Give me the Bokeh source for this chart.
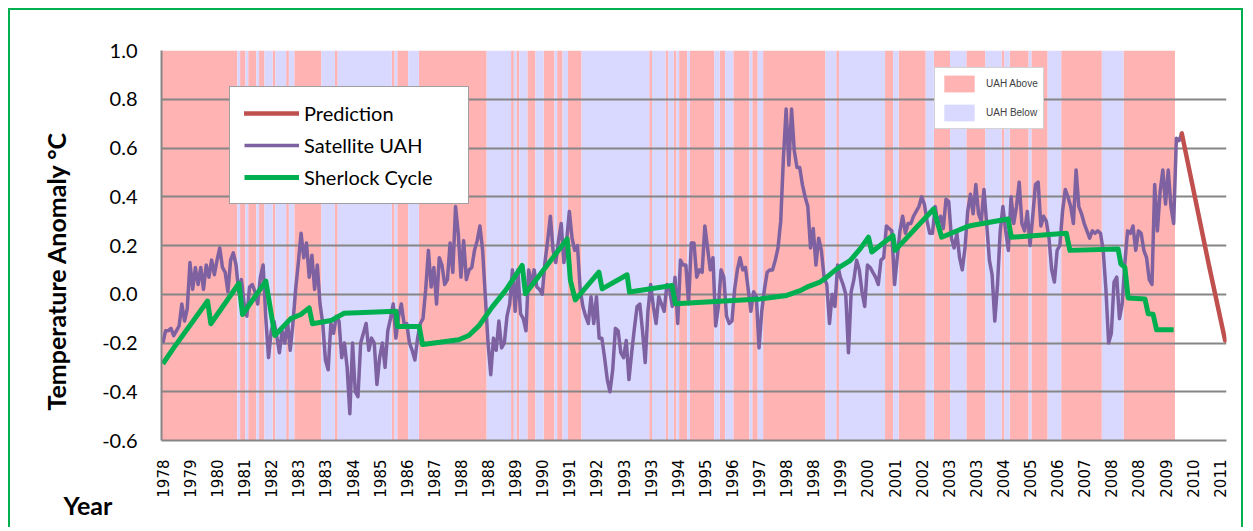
import numpy as np
from bokeh.plotting import figure
from bokeh.models import FixedTicker, NumeralTickFormatter, Legend, LegendItem, Title
from bokeh.embed import file_html
from bokeh.resources import INLINE

# ---------------- data ----------------
tick_labels = ["1978", "1979", "1980", "1981", "1982", "1983", "1983", "1984", "1985", "1986",
               "1987", "1988", "1988", "1989", "1990", "1991", "1992", "1993", "1993", "1994",
               "1995", "1996", "1997", "1998", "1998", "1999", "2000", "2001", "2002", "2003",
               "2003", "2004", "2005", "2006", "2007", "2008", "2008", "2009", "2010", "2011"]
months_per_label = 10
n_categories = 393

# Satellite UAH monthly anomaly (one value per category, from Dec 1978)
uah = [
    -0.20, -0.15, -0.15, -0.14, -0.17, -0.15, -0.13, -0.04, -0.11, -0.06,
    0.13, 0.02, 0.11, 0.04, 0.11, 0.02, 0.12, 0.07, 0.14, 0.08,
    0.14, 0.19, 0.11, 0.09, 0.01, 0.14, 0.17, 0.12, 0.01, 0.06,
    -0.04, -0.09, 0.03, 0.04, 0.01, -0.04, 0.07, 0.12, -0.10, -0.26,
    -0.15, -0.11, -0.17, -0.24, -0.15, -0.20, -0.11, -0.23, -0.12, 0.02,
    0.13, 0.25, 0.15, 0.21, 0.07, 0.16, 0.02, 0.12, -0.04, -0.12,
    -0.27, -0.31, -0.12, -0.16, -0.09, -0.11, -0.26, -0.20, -0.30, -0.49,
    -0.20, -0.40, -0.42, -0.20, -0.16, -0.12, -0.23, -0.18, -0.20, -0.37,
    -0.26, -0.20, -0.30, -0.15, -0.10, -0.04, -0.18, -0.09, -0.04, -0.12,
    -0.12, -0.20, -0.23, -0.27, -0.18, -0.12, -0.10, 0.02, 0.18, 0.03,
    0.11, -0.04, 0.15, 0.12, 0.04, 0.06, 0.21, 0.09, 0.36, 0.25,
    0.07, 0.22, 0.06, 0.10, 0.11, 0.18, 0.22, 0.28, 0.18, -0.01,
    -0.20, -0.33, -0.18, -0.23, -0.11, -0.22, -0.20, -0.09, -0.04, 0.10,
    -0.07, 0.10, -0.08, -0.10, -0.15, 0.10, 0.04, 0.10, 0.03, 0.02,
    0.00, 0.13, 0.22, 0.32, 0.18, 0.13, 0.22, 0.29, 0.13, 0.22,
    0.34, 0.23, 0.18, 0.20, 0.02, -0.05, -0.09, -0.12, -0.01, -0.12,
    -0.01, -0.18, -0.18, -0.26, -0.35, -0.40, -0.31, -0.14, -0.15, -0.24,
    -0.26, -0.19, -0.35, -0.24, -0.14, -0.05, -0.04, -0.15, -0.28, -0.07,
    0.04, -0.05, -0.12, -0.01, -0.04, -0.07, 0.04, 0.02, -0.05, 0.07,
    -0.12, 0.14, 0.12, 0.12, -0.04, 0.21, 0.21, 0.07, 0.10, 0.09,
    0.28, 0.19, 0.10, 0.15, -0.13, -0.05, 0.10, 0.07, -0.09, -0.12,
    -0.11, 0.02, 0.10, 0.15, 0.10, 0.11, 0.02, -0.07, 0.01, -0.01,
    -0.22, -0.07, 0.02, 0.09, 0.10, 0.10, 0.14, 0.19, 0.30, 0.56,
    0.76, 0.53, 0.76, 0.59, 0.52, 0.52, 0.45, 0.40, 0.36, 0.19,
    0.27, 0.12, 0.23, 0.18, 0.07, 0.04, -0.12, 0.00, -0.05, 0.12,
    0.07, 0.04, 0.00, -0.24, 0.01, 0.06, 0.14, 0.10, 0.01, -0.05,
    0.12, 0.11, 0.09, 0.07, 0.04, 0.14, 0.15, 0.28, 0.27, 0.26,
    0.04, 0.15, 0.26, 0.32, 0.25, 0.29, 0.29, 0.32, 0.34, 0.36,
    0.40, 0.37, 0.30, 0.25, 0.25, 0.36, 0.29, 0.32, 0.27, 0.39,
    0.38, 0.23, 0.19, 0.25, 0.15, 0.10, 0.19, 0.34, 0.41, 0.33,
    0.45, 0.33, 0.30, 0.43, 0.29, 0.14, 0.08, -0.11, 0.04, 0.26,
    0.36, 0.26, 0.18, 0.40, 0.29, 0.36, 0.46, 0.29, 0.26, 0.34,
    0.20, 0.32, 0.45, 0.46, 0.28, 0.32, 0.30, 0.23, 0.10, 0.05,
    0.18, 0.20, 0.34, 0.43, 0.40, 0.36, 0.29, 0.51, 0.36, 0.33,
    0.29, 0.26, 0.23, 0.26, 0.25, 0.26, 0.25, 0.18, 0.02, -0.20,
    -0.16, 0.05, 0.07, -0.10, -0.04, 0.13, 0.26, 0.25, 0.28, 0.18,
    0.26, 0.25, 0.18, 0.15, 0.06, 0.04, 0.45, 0.26, 0.42, 0.51,
    0.37, 0.51, 0.36, 0.29, 0.64, 0.63, 0.66,
]

# Sherlock Cycle (vertices of the green line: category index, value)
sherlock_month = [0, 4, 16.5, 17.7, 28.1, 29.4, 38, 41.3, 47.2, 50.9, 54, 55.2, 62, 66.9,
                  86, 86.6, 94.6, 95.8, 109.2, 112.9, 116.6, 121.5, 126.4, 132.6, 133.8,
                  149.2, 150.4, 152.2, 160.9, 162.1, 171.3, 172.2, 187.9, 189.1, 220.4,
                  230.2, 235.2, 237.6, 242.5, 245, 248.7, 253.6, 257.3, 260.4, 261.6,
                  269.4, 270.2, 284.4, 287.4, 296.2, 298.4, 311.9, 313.1, 333.4, 334.7,
                  352.5, 353.5, 355, 356.2, 362.4, 363.6, 365.4, 366.7, 373]
sherlock_value = [-0.285, -0.22, -0.028, -0.121, 0.045, -0.083, 0.054, -0.169, -0.10, -0.083,
                  -0.056, -0.121, -0.108, -0.078, -0.07, -0.132, -0.132, -0.206, -0.187,
                  -0.169, -0.13, -0.053, 0.015, 0.118, 0.002, 0.227, 0.056, -0.023, 0.091,
                  0.022, 0.08, 0.009, 0.036, -0.039, -0.019, -0.005, 0.015, 0.029, 0.05,
                  0.07, 0.104, 0.138, 0.186, 0.234, 0.173, 0.241, 0.18, 0.35, 0.234, 0.275,
                  0.282, 0.309, 0.234, 0.25, 0.18, 0.186, 0.125, 0.11, -0.015, -0.019,
                  -0.08, -0.082, -0.146, -0.146]

# Prediction
prediction_month = [376, 386, 392]
prediction_value = [0.66, 0.12, -0.19]

# ---------------- derived ----------------
months = np.arange(len(uah))
n_band = int(sherlock_month[-1]) + 1
sh_at = np.interp(months[:n_band], sherlock_month, sherlock_value)
above = np.asarray(uah[:n_band]) > sh_at
run_l, run_r, run_up = [], [], []
s = 0
for k in range(1, n_band + 1):
    if k == n_band or above[k] != above[s]:
        run_l.append(s - 0.5)
        run_r.append(k - 0.5)
        run_up.append(bool(above[s]))
        s = k
red_l = [a for a, u in zip(run_l, run_up) if u]
red_r = [b for b, u in zip(run_r, run_up) if u]
blue_l = [a for a, u in zip(run_l, run_up) if not u]
blue_r = [b for b, u in zip(run_r, run_up) if not u]

Y_MIN, Y_MAX = -0.6, 1.0
y_ticks = [-0.6, -0.4, -0.2, 0.0, 0.2, 0.4, 0.6, 0.8, 1.0]

# ---------------- figure ----------------
p = figure(width=1235, height=519,
           x_range=(-0.5, n_categories - 0.5), y_range=(Y_MIN, Y_MAX),
           output_backend="svg", toolbar_location=None,
           min_border_left=150, min_border_right=19, min_border_top=40, min_border_bottom=89,
           background_fill_color="white", border_fill_color="white",
           outline_line_color=None)
p.styles = {"margin-left": "8px", "margin-top": "8px",
            "border-top": "2px solid #00B050", "border-left": "2px solid #00B050",
            "border-right": "2px solid #00B050"}

RED_BG = "#FFB3B3"
BLUE_BG = "#D9D9FF"
r_above = p.quad(left=red_l, right=red_r, bottom=Y_MIN, top=Y_MAX,
                 fill_color=RED_BG, line_color=None, level="image")
r_below = p.quad(left=blue_l, right=blue_r, bottom=Y_MIN, top=Y_MAX,
                 fill_color=BLUE_BG, line_color=None, level="image")

r_uah = p.line(months, uah, line_color="#7E61A1", line_width=3.5, line_join="round")
r_sh = p.line(sherlock_month, sherlock_value, line_color="#00B050", line_width=5,
              line_join="round")
r_pred = p.line(prediction_month, prediction_value, line_color="#C0504D", line_width=4.5,
                line_join="round", line_cap="round")

# axes
grid_col = "#868686"
p.xgrid.visible = False
p.ygrid.ticker = FixedTicker(ticks=y_ticks)
p.ygrid.grid_line_color = grid_col
p.ygrid.grid_line_width = 2

p.yaxis.ticker = FixedTicker(ticks=y_ticks)
p.yaxis.formatter = NumeralTickFormatter(format="0.0")
p.yaxis.major_label_text_font = "Lato"
p.yaxis.major_label_text_font_size = "20px"
p.yaxis.major_label_text_color = "black"
p.yaxis.major_tick_line_color = None
p.yaxis.minor_tick_line_color = None
p.yaxis.major_label_standoff = 18
p.yaxis.axis_line_color = grid_col
p.yaxis.axis_line_width = 2

tick_pos = [months_per_label * k for k in range(len(tick_labels))]
p.xaxis.ticker = FixedTicker(ticks=tick_pos)
p.xaxis.major_label_overrides = {t: lab for t, lab in zip(tick_pos, tick_labels)}
p.xaxis.major_label_orientation = np.pi / 2
p.xaxis.major_label_text_font = "DejaVu Sans"
p.xaxis.major_label_text_font_size = "15px"
p.xaxis.major_label_text_color = "black"
p.xaxis.major_tick_line_color = None
p.xaxis.minor_tick_line_color = None
p.xaxis.major_label_standoff = 13
p.xaxis.axis_line_color = grid_col
p.xaxis.axis_line_width = 2

# axis titles (as side-panel titles so they sit outside the frame)
p.add_layout(Title(text="Temperature Anomaly °C", align="left", offset=30,
                   standoff=57, text_font="Lato", text_font_size="25px",
                   text_font_style="bold", text_color="black"), "left")
p.add_layout(Title(text="Year", align="left", offset=-98, standoff=-26,
                   text_font="Lato", text_font_size="25px",
                   text_font_style="bold", text_color="black"), "below")

# legends
leg1 = Legend(items=[LegendItem(label="Prediction", renderers=[r_pred]),
                     LegendItem(label="Satellite UAH", renderers=[r_uah]),
                     LegendItem(label="Sherlock Cycle", renderers=[r_sh])],
              location=(68, 236), orientation="vertical",
              border_line_color="#3F3F3F", border_line_width=1.5,
              background_fill_color="white", background_fill_alpha=1.0,
              label_text_font="Lato", label_text_font_size="20px", label_text_color="black",
              glyph_width=55, glyph_height=22, label_height=22, label_width=150,
              spacing=8, padding=14, label_standoff=5, margin=0)
leg2 = Legend(items=[LegendItem(label="UAH Above", renderers=[r_above]),
                     LegendItem(label="UAH Below", renderers=[r_below])],
              location=(773, 311), orientation="vertical",
              border_line_color="#A6A6A6", border_line_width=1.5,
              background_fill_color="white", background_fill_alpha=1.0,
              label_text_font="Liberation Sans", label_text_font_size="10px",
              label_text_color="#404040",
              glyph_width=38, glyph_height=21, label_height=21, label_width=51,
              spacing=8, padding=5, label_standoff=8, margin=0)
p.add_layout(leg1)
p.add_layout(leg2)

open("out.html", "w").write(file_html(p, INLINE))
